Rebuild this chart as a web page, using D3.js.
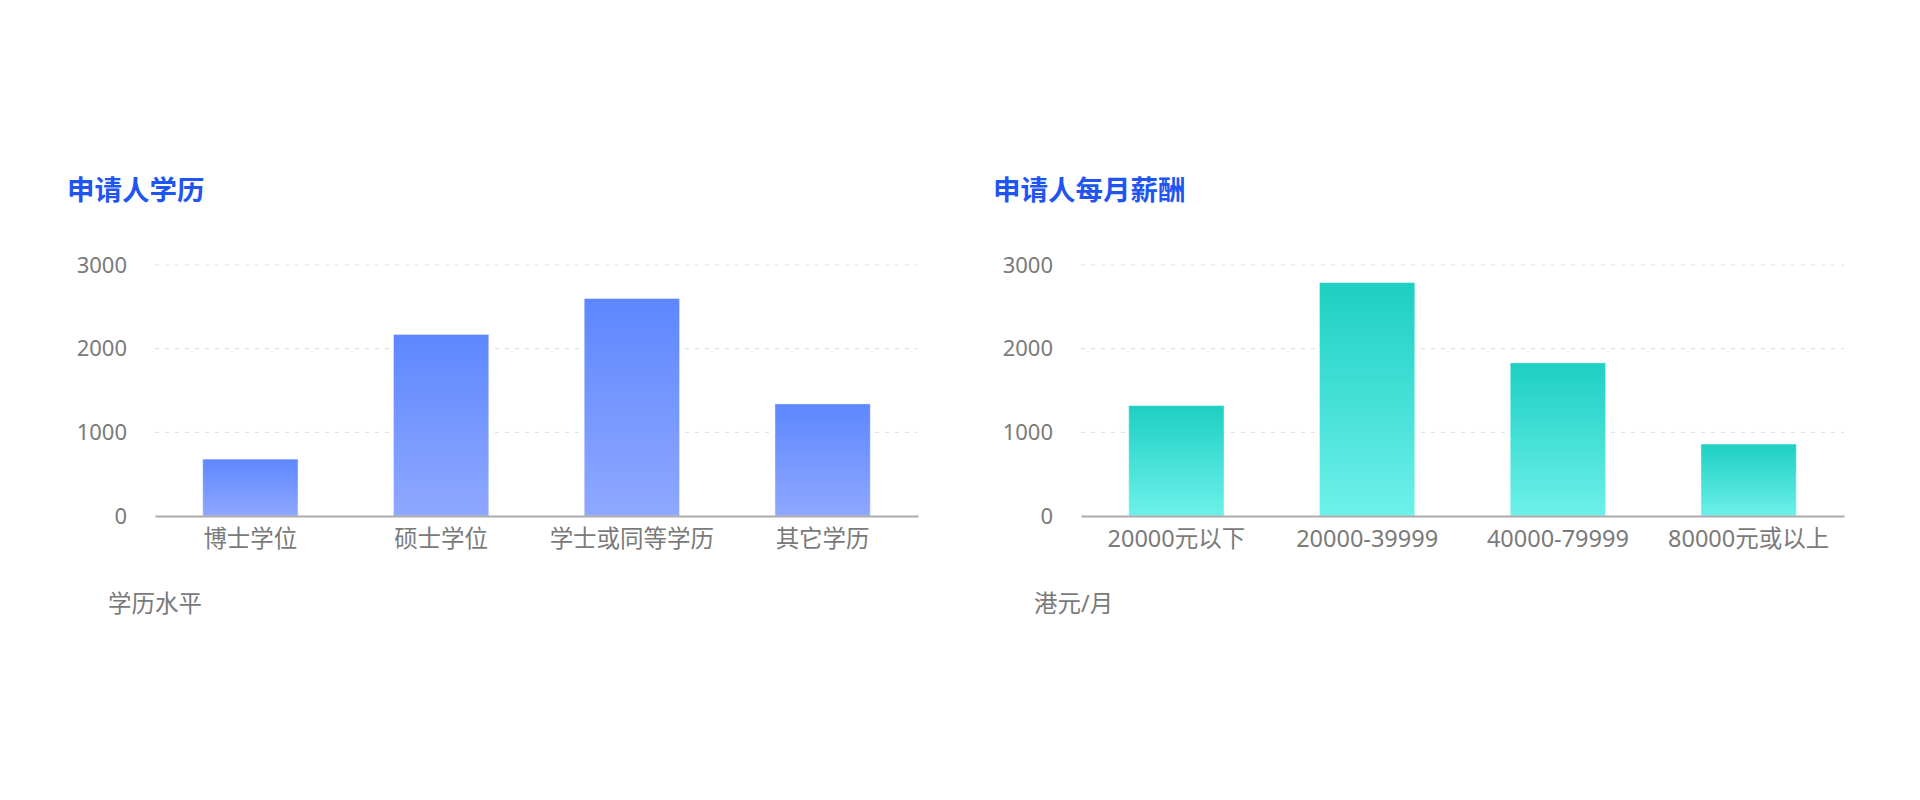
<!DOCTYPE html>
<html>
<head>
<meta charset="utf-8">
<script src="https://cdn.jsdelivr.net/npm/d3@7"></script>
<style>
  html, body { margin: 0; padding: 0; background: #fff; }
  svg text { font-family: "Noto Sans", "Noto Sans CJK SC", sans-serif; }
</style>
</head>
<body>
<div id="graph"></div>
<script>
const EDU_TITLE = "申请人学历";
const EDU_CATS = ["博士学位", "硕士学位", "学士或同等学历", "其它学历"];
const EDU_VALUES = [680, 2170, 2600, 1340];
const EDU_AXIS_NAME = "学历水平";

const PAY_TITLE = "申请人每月薪酬";
const PAY_CATS = ["20000元以下", "20000-39999", "40000-79999", "80000元或以上"];
const PAY_VALUES = [1320, 2790, 1830, 860];
const PAY_AXIS_NAME = "港元/月";

const Y_TICKS = [0, 1000, 2000, 3000];

const W = 1920, H = 800;

const svg = d3.select("#graph")
  .append("svg")
    .attr("width", W)
    .attr("height", H);

const defs = svg.append("defs");

const add_gradient = (id, top, bottom) => {
  let g = defs.append("linearGradient")
      .attr("id", id)
      .attr("x1", 0).attr("y1", 0)
      .attr("x2", 0).attr("y2", 1);
  g.append("stop").attr("offset", "0%").attr("stop-color", top);
  g.append("stop").attr("offset", "100%").attr("stop-color", bottom);
}

add_gradient("grad_blue", "#5d87ff", "#8fa8ff");
add_gradient("grad_teal", "#1dcfc2", "#6df1ea");

// one bar chart; left = x of the plot area
const draw_chart = (left, title, cats, values, axis_name, fill) => {
  const width = 763;
  const top = 265, bottom = 516;

  let x = d3.scaleBand().domain(cats).range([left, left + width])
      .paddingInner(0.5).paddingOuter(0.25);
  let y = d3.scaleLinear().domain([0, 3000]).range([bottom, top]);

  let g = svg.append("g");

  g.append("text")
      .attr("x", left - 88)
      .attr("y", 189)
      .attr("dominant-baseline", "central")
      .style("font-size", "27.5px")
      .style("font-weight", "bold")
      .style("fill", "#1f55f0")
      .text(title);

  // dashed grid
  g.append("g")
    .selectAll("line")
    .data(Y_TICKS.filter((d) => d > 0))
    .join("line")
      .attr("x1", left).attr("x2", left + width)
      .attr("y1", (d) => y(d)).attr("y2", (d) => y(d))
      .style("stroke", "#e2e2e2")
      .style("stroke-width", 1.2)
      .style("stroke-dasharray", "4, 6");

  let yAxis = g.append("g")
      .attr("transform", "translate(" + left + ",0)")
      .call(d3.axisLeft(y).tickValues(Y_TICKS).tickFormat(d3.format("d"))
        .tickSize(0).tickPadding(28));
  yAxis.select(".domain").remove();
  yAxis.selectAll("text")
      .style("font-size", "22px")
      .style("fill", "#7a7a7a");

  g.append("g")
    .selectAll("rect")
    .data(values)
    .join("rect")
      .attr("x", (d, i) => x(cats[i]))
      .attr("y", (d) => y(d))
      .attr("width", x.bandwidth())
      .attr("height", (d) => y(0) - y(d))
      .style("fill", "url(#" + fill + ")")
      .style("stroke", "#ffffff")
      .style("stroke-opacity", 0.45)
      .style("stroke-width", 1);

  let xAxis = g.append("g")
      .attr("transform", "translate(0," + bottom + ")")
      .call(d3.axisBottom(x).tickSize(0).tickPadding(14));
  xAxis.select(".domain")
      .style("stroke", "#ababab")
      .style("stroke-width", 2);
  xAxis.selectAll("text")
      .style("font-size", "23.5px")
      .style("fill", "#7a7a7a");

  g.append("text")
      .attr("x", left - 47)
      .attr("y", 603)
      .attr("dominant-baseline", "central")
      .style("font-size", "23.5px")
      .style("fill", "#7a7a7a")
      .text(axis_name);
}

draw_chart(155, EDU_TITLE, EDU_CATS, EDU_VALUES, EDU_AXIS_NAME, "grad_blue");
draw_chart(1081, PAY_TITLE, PAY_CATS, PAY_VALUES, PAY_AXIS_NAME, "grad_teal");
</script>
</body>
</html>
